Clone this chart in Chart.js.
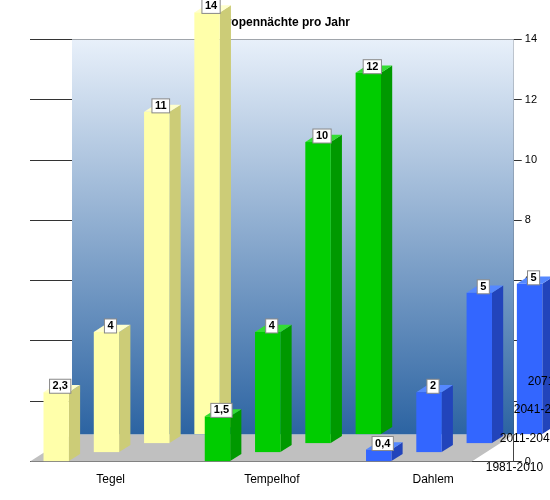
<!DOCTYPE html>
<html>
<head>
<meta charset="utf-8">
<script src="https://cdn.jsdelivr.net/npm/chart.js@4/dist/chart.umd.min.js"></script>
<style>
  body { margin: 0; background: #fff; }
  #wrap { width: 550px; height: 500px; }
</style>
</head>
<body>
<div id="wrap"><canvas id="c"></canvas></div>
<script>
const stations = ['Tegel', 'Tempelhof', 'Dahlem'];
const periods = ['1981-2010', '2011-2040', '2041-2070', '2071-2100'];
const p1981 = [2.3, 1.5, 0.4];
const p2011 = [4, 4, 2];
const p2041 = [11, 10, 5];
const p2071 = [14, 12, 5];
const yTicks = [0, 2, 4, 6, 8, 10, 12, 14];

const frontC = ['#FFFFAA', '#00CC00', '#3366FF'];
const sideC = ['#CCCC77', '#009900', '#2244BB'];
const topC = ['#FFFFCC', '#33DD33', '#5588FF'];

const DX = 14, DY = -9; // depth step per period

const bars3d = {
  id: 'bars3d',
  beforeDatasetsDraw(chart) {
    const ctx = chart.ctx, a = chart.chartArea;
    ctx.save();
    const g = ctx.createLinearGradient(0, a.top, 0, a.bottom);
    g.addColorStop(0, '#E8F0FA'); g.addColorStop(1, '#1F5A9C');
    ctx.fillStyle = g;
    ctx.fillRect(a.left + 3 * DX, a.top, a.right - a.left - 3 * DX, a.bottom - a.top + 3 * DY);
    ctx.fillStyle = '#C0C0C0';
    ctx.beginPath();
    ctx.moveTo(a.left, a.bottom); ctx.lineTo(a.right - 3 * DX, a.bottom);
    ctx.lineTo(a.right, a.bottom + 3 * DY); ctx.lineTo(a.left + 3 * DX, a.bottom + 3 * DY);
    ctx.closePath(); ctx.fill();
    ctx.restore();
  },
  afterDatasetsDraw(chart) {
    const ctx = chart.ctx, a = chart.chartArea;
    ctx.save();
    for (let d = chart.data.datasets.length - 1; d >= 0; d--) {
      const meta = chart.getDatasetMeta(d);
      meta.data.forEach((bar, i) => {
        const w = bar.width, x0 = bar.x - w / 2, x1 = bar.x + w / 2;
        const ox = d * DX, oy = d * DY;
        const yT = bar.y + oy, yB = bar.base + oy;
        ctx.fillStyle = sideC[i];
        ctx.beginPath();
        ctx.moveTo(x1 + ox, yT); ctx.lineTo(x1 + ox + DX * 0.8, yT + DY * 0.8);
        ctx.lineTo(x1 + ox + DX * 0.8, yB + DY * 0.8); ctx.lineTo(x1 + ox, yB);
        ctx.fill();
        ctx.fillStyle = topC[i];
        ctx.beginPath();
        ctx.moveTo(x0 + ox, yT); ctx.lineTo(x1 + ox, yT);
        ctx.lineTo(x1 + ox + DX * 0.8, yT + DY * 0.8); ctx.lineTo(x0 + ox + DX * 0.8, yT + DY * 0.8);
        ctx.fill();
        ctx.fillStyle = frontC[i];
        ctx.fillRect(x0 + ox, yT, w, yB - yT);
        const txt = String(chart.data.datasets[d].data[i]).replace('.', ',');
        ctx.font = 'bold 11px Arial, "Liberation Sans"';
        const tw = ctx.measureText(txt).width + 6;
        const lx = bar.x + ox + 4, ly = yT - 6;
        ctx.fillStyle = '#fff'; ctx.strokeStyle = '#888';
        ctx.fillRect(lx - tw / 2, ly - 7, tw, 14);
        ctx.strokeRect(lx - tw / 2, ly - 7, tw, 14);
        ctx.fillStyle = '#000'; ctx.textAlign = 'center'; ctx.textBaseline = 'middle';
        ctx.fillText(txt, lx, ly);
      });
      ctx.font = '12px Arial, "Liberation Sans"';
      ctx.fillStyle = '#000'; ctx.textAlign = 'left'; ctx.textBaseline = 'middle';
      ctx.fillText(periods[d], a.right - 3 * DX + d * DX + 14, a.bottom + 6 + d * DY * 3.2);
    }
    ctx.restore();
  }
};

new Chart(document.getElementById('c'), {
  type: 'bar',
  data: {
    labels: stations,
    datasets: [p1981, p2011, p2041, p2071].map((v, k) => ({
      label: periods[k], data: v, backgroundColor: 'rgba(0,0,0,0)'
    }))
  },
  options: {
    responsive: true, maintainAspectRatio: false, animation: false,
    layout: { padding: { left: 30, right: 10, top: 5, bottom: 10 } },
    plugins: {
      legend: { display: false },
      tooltip: { enabled: false },
      title: { display: true, text: 'Tropennächte pro Jahr', color: '#000',
        font: { family: 'Arial, "Liberation Sans"', size: 12, weight: 'bold' } }
    },
    datasets: { bar: { categoryPercentage: 0.9, barPercentage: 0.7 } },
    scales: {
      x: { grid: { display: false }, border: { color: '#444' },
        ticks: { color: '#000', font: { family: 'Arial, "Liberation Sans"', size: 12 } } },
      y: { position: 'right', min: 0, max: 14, afterBuildTicks: s => { s.ticks = yTicks.map(v => ({ value: v })); },
        grid: { color: '#333' }, border: { color: '#444' },
        ticks: { color: '#000', font: { family: 'Arial, "Liberation Sans"', size: 11 } } }
    }
  },
  plugins: [bars3d]
});
</script>
</body>
</html>
